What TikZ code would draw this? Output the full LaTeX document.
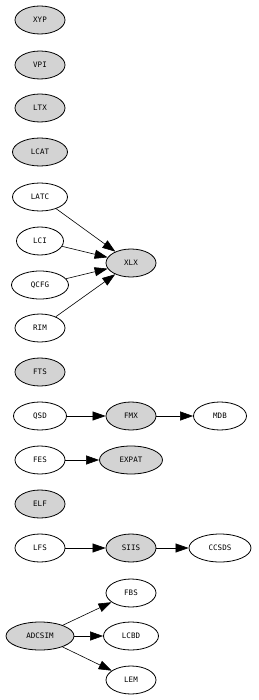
\documentclass[tikz,border=0pt]{standalone}
\usepackage{fontspec}
\setmonofont{DejaVu Sans Mono}
\usepackage{tikz}
\usetikzlibrary{arrows.meta,shapes.geometric}
\definecolor{pkggrey}{HTML}{D3D3D3}
\tikzset{
  pkg/.style={
    ellipse,
    draw=black,
    line width=0.8pt,
    fill=white,
    inner sep=0pt,
    minimum width=50pt,
    minimum height=28pt,
    font=\ttfamily\fontsize{7.5}{8}\selectfont
  },
  pkglib/.style={
    pkg,
    fill=pkggrey
  },
  dep/.style={
    -{Triangle[length=13pt,width=9pt]},
    line width=0.6pt,
    draw=black
  }
}
\begin{document}
\begin{tikzpicture}[x=1pt,y=-1pt]
\useasboundingbox (0,0) rectangle (258,700);
% left column
\node[pkglib] (xyp) at (40,20) {XYP};
\node[pkglib] (vpi) at (40,65) {VPI};
\node[pkglib] (ltx) at (40,108) {LTX};
\node[pkglib, minimum width=55pt] (lcat) at (40,152) {LCAT};
\node[pkg, minimum width=55pt] (latc) at (40,197) {LATC};
\node[pkg, minimum width=47pt] (lci) at (40,241) {LCI};
\node[pkg, minimum width=57pt] (qcfg) at (40,285) {QCFG};
\node[pkg] (rim) at (40,328) {RIM};
\node[pkglib] (fts) at (40,372) {FTS};
\node[pkg, minimum width=53pt] (qsd) at (40,416) {QSD};
\node[pkg] (fes) at (40,460) {FES};
\node[pkglib] (elf) at (40,504) {ELF};
\node[pkg] (lfs) at (40,548) {LFS};
\node[pkglib, minimum width=68pt] (adcsim) at (40,636) {ADCSIM};
% middle column
\node[pkglib] (xlx) at (131,263) {XLX};
\node[pkglib] (fmx) at (131,416) {FMX};
\node[pkglib, minimum width=63pt] (expat) at (131,460) {EXPAT};
\node[pkglib] (siis) at (131,548) {SIIS};
\node[pkg] (fbs) at (131,593) {FBS};
\node[pkg, minimum width=55pt] (lcbd) at (131,636) {LCBD};
\node[pkg] (lem) at (131,680) {LEM};
% right column
\node[pkg, minimum width=53pt] (mdb) at (220,416) {MDB};
\node[pkg, minimum width=62pt] (ccsds) at (220,548) {CCSDS};
% dependencies
\draw[dep] (latc) -- (xlx);
\draw[dep] (lci) -- (xlx);
\draw[dep] (qcfg) -- (xlx);
\draw[dep] (rim) -- (xlx);
\draw[dep] (qsd) -- (fmx);
\draw[dep] (fmx) -- (mdb);
\draw[dep] (fes) -- (expat);
\draw[dep] (lfs) -- (siis);
\draw[dep] (siis) -- (ccsds);
\draw[dep] (adcsim) -- (fbs);
\draw[dep] (adcsim) -- (lcbd);
\draw[dep] (adcsim) -- (lem);
\end{tikzpicture}
\end{document}
